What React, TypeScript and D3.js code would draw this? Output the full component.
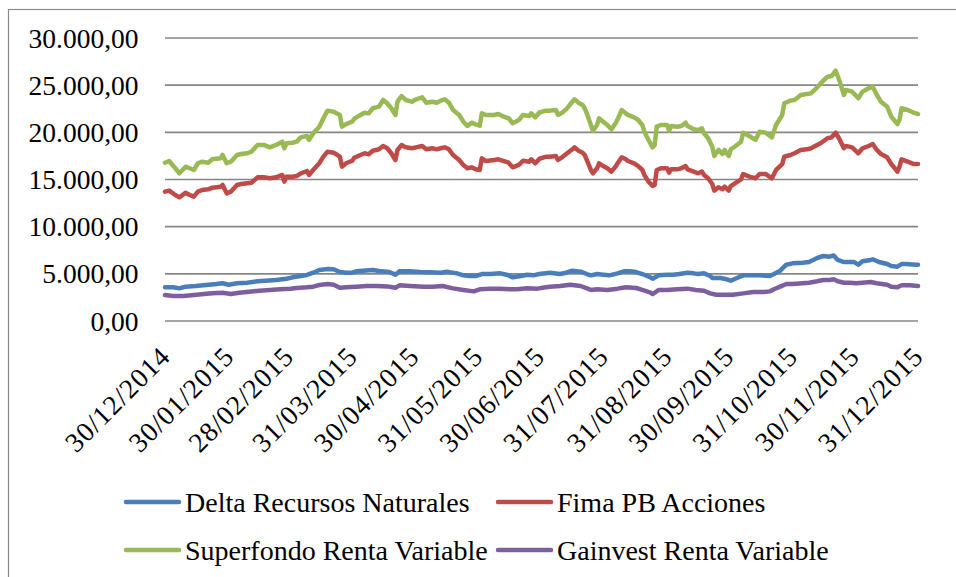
import React from "react";
import * as d3 from "d3";

const upperDates = [
  "2014-12-30","2015-01-01","2015-01-04","2015-01-06","2015-01-09","2015-01-11","2015-01-13","2015-01-15","2015-01-17","2015-01-20",
  "2015-01-22","2015-01-26","2015-01-27","2015-01-29","2015-01-31","2015-02-03","2015-02-05","2015-02-08","2015-02-10","2015-02-13",
  "2015-02-16","2015-02-19","2015-02-22","2015-02-25","2015-02-26","2015-02-27","2015-03-02","2015-03-04","2015-03-06","2015-03-09",
  "2015-03-10","2015-03-12","2015-03-15","2015-03-17","2015-03-19","2015-03-22","2015-03-25","2015-03-26","2015-03-28","2015-03-31",
  "2015-04-01","2015-04-04","2015-04-06","2015-04-08","2015-04-10","2015-04-13","2015-04-15","2015-04-17","2015-04-19","2015-04-21",
  "2015-04-22","2015-04-24","2015-04-26","2015-04-29","2015-05-01","2015-05-04","2015-05-06","2015-05-09","2015-05-11","2015-05-13",
  "2015-05-15","2015-05-17","2015-05-19","2015-05-22","2015-05-24","2015-05-26","2015-05-28","2015-05-30","2015-06-01","2015-06-02",
  "2015-06-04","2015-06-08","2015-06-10","2015-06-12","2015-06-15","2015-06-17","2015-06-20","2015-06-22","2015-06-25","2015-06-26",
  "2015-06-28","2015-06-30","2015-07-03","2015-07-05","2015-07-08","2015-07-09","2015-07-11","2015-07-13","2015-07-16","2015-07-17",
  "2015-07-19","2015-07-21","2015-07-22","2015-07-23","2015-07-25","2015-07-26","2015-07-28","2015-07-29","2015-07-31","2015-08-02",
  "2015-08-04","2015-08-06","2015-08-07","2015-08-09","2015-08-11","2015-08-12","2015-08-15","2015-08-17","2015-08-19","2015-08-20",
  "2015-08-22","2015-08-24","2015-08-25","2015-08-26","2015-08-28","2015-08-31","2015-09-01","2015-09-02","2015-09-05","2015-09-07",
  "2015-09-09","2015-09-10","2015-09-13","2015-09-15","2015-09-17","2015-09-18","2015-09-20","2015-09-22","2015-09-23","2015-09-25",
  "2015-09-27","2015-09-28","2015-09-30","2015-10-01","2015-10-03","2015-10-06","2015-10-07","2015-10-10","2015-10-13","2015-10-15",
  "2015-10-18","2015-10-21","2015-10-23","2015-10-26","2015-10-27","2015-10-30","2015-11-01","2015-11-04","2015-11-07","2015-11-09",
  "2015-11-12","2015-11-14","2015-11-17","2015-11-19","2015-11-21","2015-11-23","2015-11-25","2015-11-26","2015-11-29","2015-12-02",
  "2015-12-04","2015-12-07","2015-12-09","2015-12-11","2015-12-13","2015-12-16","2015-12-18","2015-12-21","2015-12-22","2015-12-23",
  "2015-12-26","2015-12-29","2015-12-31",
];

const superfondoValues = [
  16780,16960,16190,15660,16360,16190,16010,16720,16890,16780,
  17140,17250,17600,16720,16890,17600,17700,17780,17950,18660,
  18660,18410,18660,19010,18310,18840,18900,19010,19470,19610,
  19190,19900,20600,21490,22300,22190,21840,20600,20880,21130,
  21450,21840,22080,22010,22550,22720,23430,23080,22550,21840,
  23250,23850,23430,23250,23500,23710,23140,23250,23140,23360,
  23500,23140,22370,21840,21130,20670,21020,20850,20700,22010,
  21840,21840,21940,21730,21490,20960,21310,21840,21730,22010,
  21590,22100,22300,22300,22370,21840,22080,22440,23250,23500,
  23140,22900,22550,22010,20780,20170,20780,21490,21130,20780,
  20320,20960,21380,22370,22010,21840,21590,21310,20780,20070,
  19190,18410,18660,20600,20780,20780,20170,20670,20600,20670,
  21020,20670,20320,20250,20420,19900,19370,18480,17490,18130,
  17700,18130,17490,18200,18500,19010,19960,19610,19190,20070,
  19960,19470,20780,21840,23080,23360,23430,23960,24060,24130,
  24770,25260,25900,25970,26530,25370,23960,24490,24310,23610,
  24310,24670,24840,23960,23250,22720,21660,20880,21310,22550,
  22370,22080,21940,
];

const fimaValues = [
  13710,13820,13360,13110,13600,13360,13180,13710,13890,13960,
  14130,14240,14420,13530,13710,14420,14520,14600,14660,15230,
  15230,15130,15230,15480,14770,15300,15300,15370,15660,15900,
  15480,16010,16720,17420,17950,17840,17420,16360,16720,16990,
  17300,17600,17780,17670,18050,18200,18550,18310,17780,17070,
  18130,18660,18410,18310,18410,18550,18200,18310,18200,18310,
  18410,18200,17600,17070,16540,16190,16290,16080,16010,17250,
  16960,17070,17140,16990,16780,16290,16540,16990,16890,17140,
  16720,17200,17400,17420,17490,17070,17350,17700,18200,18410,
  18050,17840,17600,17070,16010,15660,16190,16720,16430,16190,
  15830,16360,16720,17350,17140,16960,16720,16430,16010,15480,
  14770,14310,14420,16010,16190,16190,15730,16080,16080,16190,
  16430,16080,15830,15660,15830,15480,15130,14520,13820,14170,
  13960,14240,13820,14310,14600,15020,15580,15300,15130,15580,
  15580,15130,16010,16640,17420,17600,17780,18130,18200,18310,
  18660,18900,19370,19470,19960,19190,18310,18550,18410,17780,
  18310,18550,18760,18130,17700,17350,16640,15830,16360,17140,
  16890,16640,16640,
];

const deltaSeries: [string, number][] = [
  ["2014-12-30",3570],["2015-01-03",3570],["2015-01-06",3460],["2015-01-09",3640],["2015-01-14",3710],
  ["2015-01-19",3820],["2015-01-24",3920],["2015-01-27",4000],["2015-01-30",3850],["2015-02-03",4000],
  ["2015-02-08",4060],["2015-02-13",4210],["2015-02-17",4270],["2015-02-22",4350],["2015-02-27",4480],
  ["2015-03-02",4630],["2015-03-06",4770],["2015-03-09",4880],["2015-03-12",5120],["2015-03-15",5410],
  ["2015-03-19",5510],["2015-03-22",5480],["2015-03-25",5190],["2015-03-28",5120],["2015-03-31",5120],
  ["2015-04-02",5270],["2015-04-05",5330],["2015-04-10",5410],["2015-04-13",5300],["2015-04-18",5190],
  ["2015-04-21",4910],["2015-04-23",5270],["2015-04-28",5270],["2015-05-03",5190],["2015-05-08",5160],
  ["2015-05-13",5120],["2015-05-16",5230],["2015-05-21",5050],["2015-05-24",4840],["2015-05-27",4770],
  ["2015-05-30",4770],["2015-06-02",4980],["2015-06-06",4980],["2015-06-11",5050],["2015-06-14",4910],
  ["2015-06-17",4630],["2015-06-21",4770],["2015-06-24",4910],["2015-06-27",4840],["2015-06-30",4980],
  ["2015-07-05",5120],["2015-07-10",4980],["2015-07-13",5120],["2015-07-16",5330],["2015-07-20",5230],
  ["2015-07-23",4980],["2015-07-25",4840],["2015-07-28",4980],["2015-07-31",4910],["2015-08-03",4840],
  ["2015-08-07",5050],["2015-08-10",5270],["2015-08-13",5270],["2015-08-16",5190],["2015-08-19",4980],
  ["2015-08-23",4630],["2015-08-24",4480],["2015-08-27",4840],["2015-08-31",4910],["2015-09-03",4910],
  ["2015-09-06",4980],["2015-09-10",5120],["2015-09-13",5050],["2015-09-15",4980],["2015-09-18",5050],
  ["2015-09-21",4770],["2015-09-22",4560],["2015-09-26",4560],["2015-09-29",4420],["2015-10-01",4270],
  ["2015-10-04",4560],["2015-10-07",4840],["2015-10-10",4840],["2015-10-15",4840],["2015-10-20",4770],
  ["2015-10-22",4980],["2015-10-25",5330],["2015-10-28",5970],["2015-10-31",6110],["2015-11-05",6180],
  ["2015-11-08",6250],["2015-11-12",6680],["2015-11-15",6890],["2015-11-18",6820],["2015-11-20",6950],
  ["2015-11-22",6470],["2015-11-25",6250],["2015-11-28",6250],["2015-11-30",6250],["2015-12-02",5970],
  ["2015-12-04",6330],["2015-12-08",6470],["2015-12-09",6540],["2015-12-12",6250],["2015-12-16",6040],
  ["2015-12-18",5830],["2015-12-21",5760],["2015-12-23",6040],["2015-12-25",6040],["2015-12-30",5970],
  ["2015-12-31",5970],
];

const gainvestSeries: [string, number][] = [
  ["2014-12-30",2760],["2015-01-03",2650],["2015-01-08",2650],["2015-01-13",2760],["2015-01-18",2860],
  ["2015-01-22",2930],["2015-01-27",3000],["2015-01-31",2860],["2015-02-04",3000],["2015-02-09",3110],
  ["2015-02-14",3210],["2015-02-19",3290],["2015-02-24",3360],["2015-03-01",3430],["2015-03-04",3500],
  ["2015-03-09",3570],["2015-03-12",3640],["2015-03-15",3820],["2015-03-19",3920],["2015-03-22",3850],
  ["2015-03-25",3530],["2015-03-28",3570],["2015-04-02",3640],["2015-04-07",3710],["2015-04-12",3710],
  ["2015-04-17",3670],["2015-04-21",3530],["2015-04-23",3780],["2015-04-28",3710],["2015-05-05",3640],
  ["2015-05-09",3640],["2015-05-14",3710],["2015-05-19",3460],["2015-05-24",3290],["2015-05-29",3140],
  ["2015-06-01",3360],["2015-06-06",3430],["2015-06-11",3430],["2015-06-16",3360],["2015-06-19",3360],
  ["2015-06-24",3460],["2015-06-29",3430],["2015-07-03",3570],["2015-07-05",3640],["2015-07-10",3710],
  ["2015-07-15",3850],["2015-07-20",3710],["2015-07-25",3290],["2015-07-28",3360],["2015-08-02",3290],
  ["2015-08-07",3430],["2015-08-11",3570],["2015-08-16",3500],["2015-08-19",3290],["2015-08-23",3000],
  ["2015-08-24",2860],["2015-08-27",3290],["2015-08-31",3290],["2015-09-05",3360],["2015-09-10",3430],
  ["2015-09-14",3290],["2015-09-18",3210],["2015-09-21",2930],["2015-09-24",2790],["2015-09-29",2790],
  ["2015-10-02",2790],["2015-10-07",2930],["2015-10-12",3070],["2015-10-17",3070],["2015-10-20",3140],
  ["2015-10-22",3360],["2015-10-25",3640],["2015-10-28",3920],["2015-10-31",3920],["2015-11-05",4000],
  ["2015-11-08",4060],["2015-11-12",4210],["2015-11-15",4350],["2015-11-18",4350],["2015-11-20",4420],
  ["2015-11-22",4210],["2015-11-25",4060],["2015-11-28",4060],["2015-12-01",4000],["2015-12-04",4060],
  ["2015-12-08",4130],["2015-12-11",4000],["2015-12-16",3850],["2015-12-18",3640],["2015-12-21",3570],
  ["2015-12-23",3780],["2015-12-27",3780],["2015-12-31",3710],
];

const xTickLabels = [
  "30/12/2014","30/01/2015","28/02/2015","31/03/2015","30/04/2015","31/05/2015","30/06/2015",
  "31/07/2015","31/08/2015","30/09/2015","31/10/2015","30/11/2015","31/12/2015",
];

const yTickValues = [0, 5000, 10000, 15000, 20000, 25000, 30000];

const seriesNames = [
  "Delta Recursos Naturales",
  "Fima PB Acciones",
  "Superfondo Renta Variable",
  "Gainvest Renta Variable",
];
const seriesColors = ["#4a7ebb", "#be4b48", "#98b954", "#7d5fa0"];

const FONT = '"Liberation Serif", Tinos, "Noto Serif", "DejaVu Serif", FreeSerif, "Times New Roman", Times, Georgia, serif';

export default function App() {
  const parse = d3.timeParse("%Y-%m-%d");
  const parseTick = d3.timeParse("%d/%m/%Y");
  const x = d3
    .scaleTime()
    .domain([parse("2014-12-30") as Date, parse("2015-12-31") as Date])
    .range([165, 918]);
  const y = d3.scaleLinear().domain([0, 30000]).range([321, 38]);
  const locale = d3.formatLocale({ decimal: ",", thousands: ".", grouping: [3], currency: ["", ""] });
  const fmt = locale.format(",.2f");

  const series = [
    { name: seriesNames[0], color: seriesColors[0], pts: deltaSeries.map(([d, v]) => [parse(d) as Date, v] as [Date, number]) },
    { name: seriesNames[1], color: seriesColors[1], pts: upperDates.map((d, i) => [parse(d) as Date, fimaValues[i]] as [Date, number]) },
    { name: seriesNames[2], color: seriesColors[2], pts: upperDates.map((d, i) => [parse(d) as Date, superfondoValues[i]] as [Date, number]) },
    { name: seriesNames[3], color: seriesColors[3], pts: gainvestSeries.map(([d, v]) => [parse(d) as Date, v] as [Date, number]) },
  ];

  const line = d3
    .line<[Date, number]>()
    .x((d) => x(d[0]))
    .y((d) => y(d[1]));

  const legendPos = [
    [126, 502],
    [498, 502],
    [126, 550],
    [498, 550],
  ];

  const textStyle = { fontFamily: FONT } as React.CSSProperties;

  return (
    <svg
      width={956}
      height={577}
      style={{ position: "absolute", left: 0, top: 0, background: "#fff", fontFamily: FONT }}
    >
      <rect x={0} y={0} width={956} height={577} fill="#fff" />
      <rect x={8.5} y={9.5} width={1000} height={700} fill="none" stroke="#8a8a8a" strokeWidth={1.2} />
      {yTickValues.map((v) => (
        <g key={v}>
          <line x1={165} x2={918} y1={y(v)} y2={y(v)} stroke="#868686" strokeWidth={1.7} />
          <text x={138.5} y={y(v) + 9.5} textAnchor="end" fontSize={27.5} fill="#000" style={textStyle}>
            {fmt(v)}
          </text>
        </g>
      ))}
      {xTickLabels.map((t) => {
        const px = x(parseTick(t) as Date);
        return (
          <text
            key={t}
            transform={`translate(${px + 7},358) rotate(-45)`}
            textAnchor="end"
            fontSize={27.5}
            letterSpacing={1}
            fill="#000"
            style={textStyle}
          >
            {t}
          </text>
        );
      })}
      {series.map((s) => (
        <path
          key={s.name}
          d={line(s.pts) || ""}
          fill="none"
          stroke={s.color}
          strokeWidth={4.5}
          strokeLinejoin="round"
          strokeLinecap="round"
        />
      ))}
      {series.map((s, i) => {
        const [lx, ly] = legendPos[i];
        return (
          <g key={"lg" + s.name}>
            <line x1={lx} x2={lx + 53} y1={ly} y2={ly} stroke={s.color} strokeWidth={4.5} strokeLinecap="round" />
            <text x={lx + 59} y={ly + 9.5} fontSize={28} fill="#000" style={textStyle}>
              {s.name}
            </text>
          </g>
        );
      })}
    </svg>
  );
}
